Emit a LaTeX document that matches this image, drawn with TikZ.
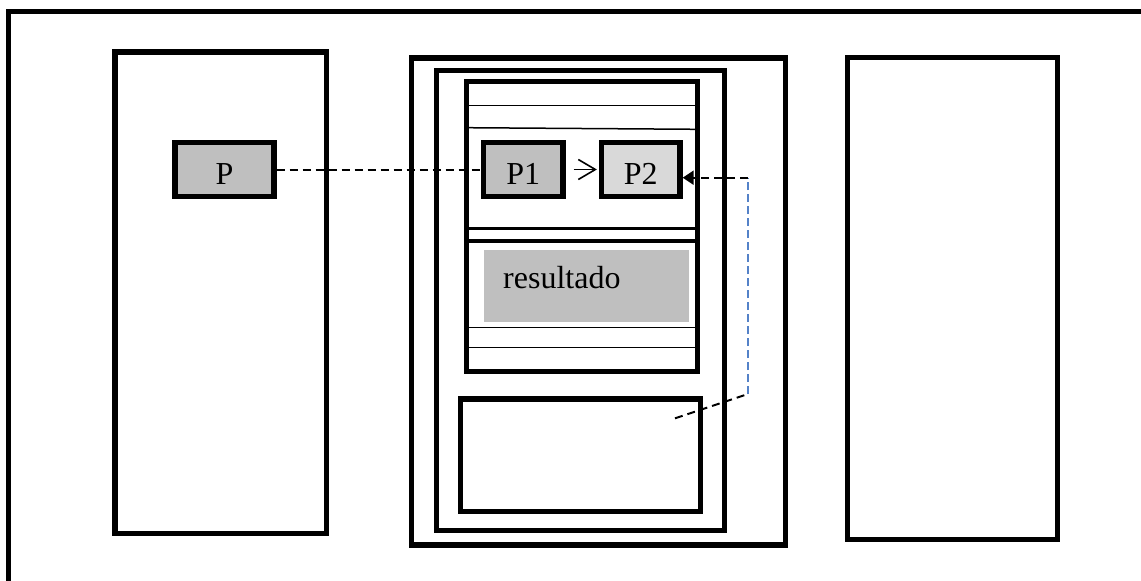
\documentclass[tikz,border=0pt]{standalone}
\usepackage{fontspec}
\setmainfont{Liberation Serif}
\usetikzlibrary{arrows.meta}
\definecolor{procgray}{RGB}{191,191,191}
\definecolor{lightproc}{RGB}{217,217,217}
\definecolor{linkblue}{RGB}{84,130,200}
\begin{document}
\begin{tikzpicture}[x=1pt,y=-1pt,
    box/.style={draw,line width=5.3pt},
    proc/.style={box,fill=procgray,minimum width=79.5pt,minimum height=54pt,
      text height=29pt,text depth=0pt,inner sep=0pt},
    link/.style={dash pattern=on 8pt off 5pt,line width=2pt},
    rule/.style={line width=1.5pt},
    font=\fontsize{32}{38}\selectfont]
  \useasboundingbox (0,0) rectangle (1141,581);
  \draw[box] (8.5,600) -- (8.5,11.8) -- (1160,11.8);
  % columns
  \draw[box] (115,52) rectangle (326.7,533.5);
  \draw[box] (411.5,58) rectangle (785.5,545);
  \draw[box] (436.5,70.5) rectangle (724.5,530.5);
  \draw[box] (847.5,57.5) rectangle (1057.5,539.5);
  % stack
  \draw[box] (466.5,81.5) rectangle (697.5,371.5);
  \draw[rule] (466.5,105.7) -- (697.5,105.7);
  \draw[rule] (466.5,127.7) -- (697.5,129.3);
  \draw[line width=3pt] (466.5,228.5) -- (697.5,228.5);
  \draw[line width=4pt] (466.5,241) -- (697.5,241);
  \draw[rule] (466.5,327.7) -- (697.5,327.7);
  \draw[rule] (466.5,347.7) -- (697.5,347.7);
  \node[fill=procgray,anchor=north west,minimum height=72pt,text width=167pt,
    inner xsep=19pt,inner ysep=16pt,text height=22pt,text depth=18pt,align=left]
    (res) at (484,250) {resultado};
  \node[box,minimum width=240pt,minimum height=112.5pt] (heap) at (580.5,455.25) {};
  \node[proc,minimum width=99pt] (p) at (224.5,169.5) {P};
  \node[proc] (p1) at (523.3,169.5) {P1};
  \node[proc,fill=lightproc,minimum width=78.5pt] (p2) at (640.8,169.5) {P2};
  \draw[link] (p) -- (p1);
  \draw[-{Straight Barb[length=17pt,width=20pt]},line width=1.6pt,
    shorten <=8pt,shorten >=2pt] (p1) -- (p2);
  \coordinate (turn) at (748,177.7);
  \coordinate (foot) at (748,394);
  \coordinate (tail) at (675,418.3);
  \draw[link] (tail) -- (foot);
  \draw[linkblue,line width=1.7pt,dash pattern=on 8pt off 4pt] (foot) -- (turn);
  \draw[link,-{Triangle[length=11pt,width=14pt]}] (turn) -- (turn -| p2.east);
\end{tikzpicture}
\end{document}
